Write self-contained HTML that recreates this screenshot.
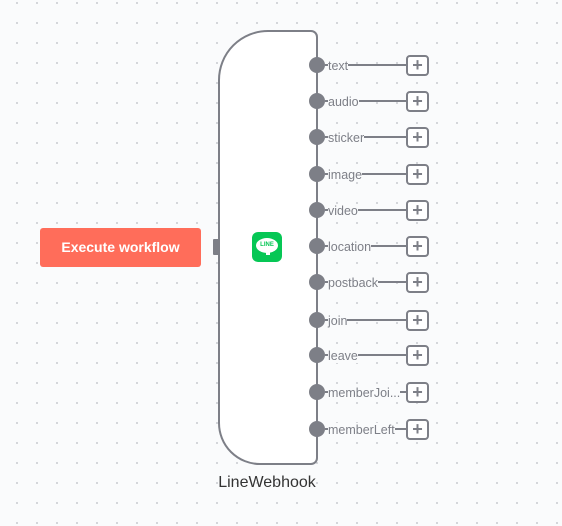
<!DOCTYPE html><html><head><style>
body{margin:0;width:562px;height:526px;overflow:hidden;background:#fafbfc;background-image:radial-gradient(circle,#c9cbd0 0.8px,transparent 1.1px);background-size:20px 20px;background-position:7px 13px;font-family:"Liberation Sans",sans-serif;position:relative}
.a{position:absolute}
.lbl{position:absolute;left:328px;font-size:12.5px;color:#7d7f87;line-height:14px;background:#fafbfc}
.dot{position:absolute;left:309px;width:16px;height:16px;border-radius:50%;background:#7d7f87}
.ln{position:absolute;left:325px;width:82px;height:2px;background:#7d7f87}
.pl{position:absolute;left:406px;width:19px;height:17px;border:2px solid #7d7f87;border-radius:4px;background:#fff;color:#7d7f87;font-size:18px;line-height:17px;text-align:center;font-weight:bold}
</style></head><body>
<div class="a" style="left:40px;top:228px;width:161px;height:39px;background:#ff6d5a;border-radius:3px;color:#fff;font-weight:bold;font-size:14px;line-height:39px;text-align:center">Execute workflow</div>
<div class="a" style="left:213px;top:239px;width:7px;height:16px;background:#7d7f87;border-radius:1px"></div>
<div class="a" style="left:218px;top:30px;width:96px;height:431px;border:2px solid #7d7f87;border-radius:50px 7px 7px 42px;background:#fff"></div>
<div class="a" style="left:252px;top:232px;width:30px;height:30px;background:#06c755;border-radius:6px"><div class="a" style="left:4px;top:6px;width:22px;height:15px;background:#fff;border-radius:50%;color:#06c755;font-size:6px;font-weight:bold;text-align:center;line-height:15px">LINE</div><div class="a" style="left:14px;top:19px;width:4px;height:4px;background:#fff"></div></div>
<div class="a" style="left:200px;top:474px;width:134px;text-align:center;font-size:16px;color:#333">LineWebhook</div>
<div id="o"></div>
<script>
var n=["text","audio","sticker","image","video","location","postback","join","leave","memberJoi...","memberLeft"],y=[65,101,137,174,210,246,282,320,355,392,429],h="";
for(var i=0;i<11;i++){h+='<div class="ln" style="top:'+(y[i]-1)+'px"></div><div class="dot" style="top:'+(y[i]-8)+'px"></div><div class="lbl" style="top:'+(y[i]-6)+'px">'+n[i]+'</div><div class="pl" style="top:'+(y[i]-10)+'px">+</div>';}
document.getElementById("o").innerHTML=h;
</script>
</body></html>
